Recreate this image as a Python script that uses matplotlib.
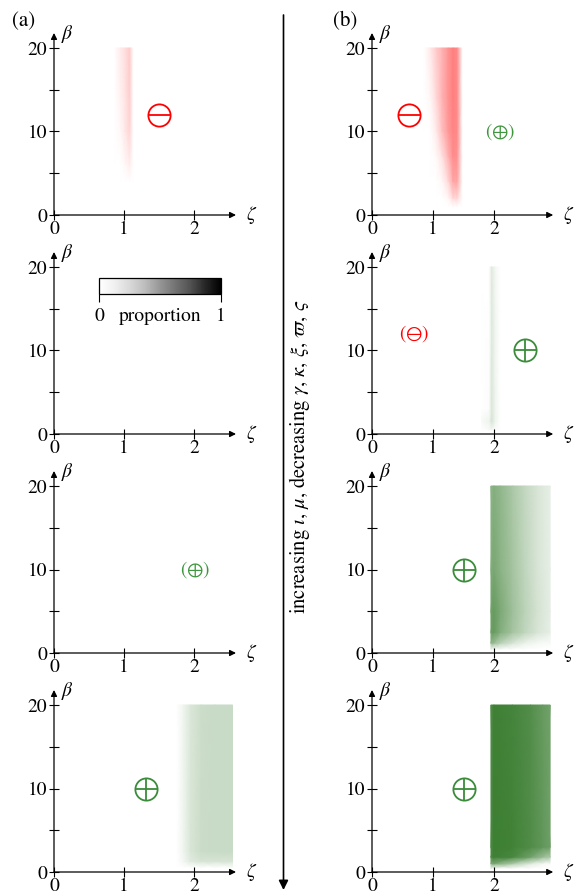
import matplotlib

matplotlib.use("Agg")
import matplotlib.pyplot as plt
from matplotlib.colors import LinearSegmentedColormap, Normalize
from matplotlib.cm import ScalarMappable

plt.rcParams["font.family"] = ["STIXGeneral", "Liberation Serif", "DejaVu Serif"]
plt.rcParams["mathtext.fontset"] = "stix"

W, H = 579, 896

# axis ranges and ticks
zeta_max = [2.6, 2.97]          # column (a), column (b)
beta_max = 21.8
zeta_ticks = [0, 1, 2]
beta_ticks = [0, 10, 20]
beta_minor = [5, 15]

# proportion maps, rows follow the beta list
a1_zeta = [0.86, 0.95, 1.02, 1.08, 1.13]
a1_beta = [4, 6, 10, 15, 20]
a1_prop = [
    [0.00, 0.00, 0.00, 0.00, 0.00],
    [0.00, 0.00, 0.03, 0.07, 0.00],
    [0.00, 0.03, 0.10, 0.17, 0.00],
    [0.00, 0.06, 0.12, 0.20, 0.00],
    [0.00, 0.08, 0.13, 0.21, 0.00],
]

b1_zeta = [0.85, 0.95, 1.05, 1.15, 1.25, 1.33, 1.40, 1.48]
b1_beta = [1, 2, 4, 7, 10, 14, 20]
b1_prop = [
    [0.00, 0.00, 0.00, 0.00, 0.00, 0.00, 0.00, 0.00],
    [0.00, 0.00, 0.00, 0.00, 0.03, 0.15, 0.15, 0.00],
    [0.00, 0.00, 0.00, 0.03, 0.15, 0.35, 0.35, 0.00],
    [0.00, 0.00, 0.02, 0.12, 0.30, 0.45, 0.42, 0.00],
    [0.00, 0.00, 0.08, 0.25, 0.40, 0.48, 0.45, 0.00],
    [0.00, 0.03, 0.15, 0.30, 0.42, 0.50, 0.45, 0.00],
    [0.00, 0.08, 0.20, 0.30, 0.42, 0.50, 0.45, 0.00],
]

b2_zeta = [1.80, 1.92, 1.96, 2.02, 2.10]
b2_beta = [0.5, 1.5, 3, 20]
b2_prop = [
    [0.00, 0.03, 0.05, 0.02, 0.00],
    [0.04, 0.08, 0.20, 0.08, 0.00],
    [0.00, 0.02, 0.18, 0.08, 0.00],
    [0.00, 0.00, 0.15, 0.06, 0.00],
]

b3_zeta = [1.95, 2.00, 2.10, 2.30, 2.50, 2.70, 2.92]
b3_beta = [0.4, 1.2, 2.5, 5, 10, 20]
b3_prop = [
    [0.00, 0.00, 0.00, 0.00, 0.00, 0.00, 0.00],
    [0.55, 0.50, 0.35, 0.20, 0.10, 0.05, 0.03],
    [0.72, 0.75, 0.62, 0.45, 0.32, 0.20, 0.12],
    [0.70, 0.75, 0.65, 0.48, 0.34, 0.22, 0.13],
    [0.62, 0.66, 0.58, 0.45, 0.32, 0.20, 0.12],
    [0.55, 0.60, 0.55, 0.42, 0.30, 0.20, 0.12],
]

a4_zeta = [1.75, 1.85, 1.95, 2.10, 2.30, 2.55]
a4_beta = [0.5, 1.3, 2.5, 20]
a4_prop = [
    [0.00, 0.00, 0.00, 0.00, 0.00, 0.00],
    [0.00, 0.06, 0.15, 0.20, 0.20, 0.20],
    [0.00, 0.08, 0.19, 0.26, 0.27, 0.27],
    [0.00, 0.08, 0.18, 0.25, 0.27, 0.27],
]

b4_zeta = [1.95, 2.00, 2.30, 2.60, 2.80, 2.92]
b4_beta = [0.4, 1.0, 1.8, 3.0, 20]
b4_prop = [
    [0.00, 0.00, 0.00, 0.00, 0.00, 0.00],
    [0.60, 0.65, 0.40, 0.15, 0.05, 0.02],
    [0.88, 0.95, 0.90, 0.70, 0.50, 0.40],
    [0.88, 0.96, 0.94, 0.86, 0.78, 0.72],
    [0.85, 0.95, 0.92, 0.85, 0.75, 0.70],
]

# region symbols: (column, row, zeta, beta)
big_minus = [(0, 0, 1.5, 12), (1, 0, 0.6, 12)]
big_plus = [(1, 1, 2.5, 10), (1, 2, 1.5, 10), (0, 3, 1.32, 10), (1, 3, 1.5, 10)]
small_minus = [(1, 1, 0.7, 12)]
small_plus = [(1, 0, 2.1, 10), (0, 2, 2.02, 10)]

RED = "#ff0000"
GREEN = "#3a8c3a"
red_map = LinearSegmentedColormap.from_list("reds", ["#ffffff", "#ff0000"])
green_map = LinearSegmentedColormap.from_list("greens", ["#ffffff", "#357a2b"])

maps = [
    (0, 0, a1_zeta, a1_beta, a1_prop, red_map),
    (1, 0, b1_zeta, b1_beta, b1_prop, red_map),
    (1, 1, b2_zeta, b2_beta, b2_prop, green_map),
    (1, 2, b3_zeta, b3_beta, b3_prop, green_map),
    (0, 3, a4_zeta, a4_beta, a4_prop, green_map),
    (1, 3, b4_zeta, b4_beta, b4_prop, green_map),
]

# pixel layout
col_left = [54, 372]
px_per_zeta = [70, 61]
row_base = [215, 434, 653, 872]
px_per_beta = 8.35


def px_box(x0, y_top, w, h):
    return [x0 / W, 1 - (y_top + h) / H, w / W, h / H]


fig = plt.figure(figsize=(W / 100, H / 100), dpi=100)

axes = {}
for c in range(2):
    for r in range(4):
        h = beta_max * px_per_beta
        ax = fig.add_axes(px_box(col_left[c], row_base[r] - h, zeta_max[c] * px_per_zeta[c], h))
        ax.set_xlim(0, zeta_max[c])
        ax.set_ylim(0, beta_max)
        for spine in ax.spines.values():
            spine.set_visible(False)
        ax.patch.set_visible(False)
        ax.set_xticks(zeta_ticks)
        ax.set_yticks(beta_ticks)
        ax.set_yticks(beta_minor, minor=True)
        ax.tick_params(which="both", direction="inout", length=7, width=0.8, labelsize=14, pad=1.5)
        ax.tick_params(axis="x", pad=0.5)
        ax.annotate("", xy=(1, 0), xytext=(0, 0), xycoords="axes fraction",
                    arrowprops=dict(arrowstyle="-|>", lw=0.9, color="k", shrinkA=0, shrinkB=0,
                                    mutation_scale=9))
        ax.annotate("", xy=(0, 1), xytext=(0, 0), xycoords="axes fraction",
                    arrowprops=dict(arrowstyle="-|>", lw=0.9, color="k", shrinkA=0, shrinkB=0,
                                    mutation_scale=9))
        ax.annotate(r"$\beta$", xy=(0, 1), xycoords="axes fraction", xytext=(10, -1),
                    textcoords="offset points", fontsize=14, ha="center", va="center")
        ax.annotate(r"$\zeta$", xy=(1, 0), xycoords="axes fraction", xytext=(11, 0),
                    textcoords="offset points", fontsize=14, ha="center", va="center")
        axes[(c, r)] = ax

for c, r, zeta, beta, prop, cmap in maps:
    axes[(c, r)].pcolormesh(zeta, beta, prop, shading="gouraud", cmap=cmap, vmin=0, vmax=1,
                            zorder=1, rasterized=True)

for c, r, z, b in big_minus:
    ax = axes[(c, r)]
    ax.plot(z, b, "o", ms=16, mfc="none", mec=RED, mew=1.3, zorder=5)
    ax.plot(z, b, "_", ms=16, mec=RED, mew=1.3, zorder=5)

for c, r, z, b in big_plus:
    ax = axes[(c, r)]
    ax.plot(z, b, "o", ms=16, mfc="none", mec=GREEN, mew=1.3, zorder=5)
    ax.plot(z, b, "+", ms=16, mec=GREEN, mew=1.3, zorder=5)

for c, r, z, b in small_minus:
    axes[(c, r)].text(z, b, r"$(\ominus)$", color=RED, fontsize=14, ha="center", va="center", zorder=5)

for c, r, z, b in small_plus:
    axes[(c, r)].text(z, b, r"$(\oplus)$", color="#3f963f", fontsize=14, ha="center", va="center", zorder=5)

# proportion scale
cax = fig.add_axes(px_box(99, 278, 122, 16))
cb = fig.colorbar(ScalarMappable(Normalize(0, 1), cmap="Greys"), cax=cax,
                  orientation="horizontal", ticks=[0, 1])
cb.outline.set_linewidth(0.9)
cax.tick_params(length=6, width=0.8, labelsize=14, pad=4)
cax.set_xticklabels(["0", "1"])

# overlay in pixel coordinates
over = fig.add_axes([0, 0, 1, 1])
over.set_xlim(0, W)
over.set_ylim(H, 0)
over.axis("off")
over.text(160, 316, "proportion", fontsize=14, ha="center", va="center")
over.text(24, 21, "(a)", fontsize=15, ha="center", va="center")
over.text(345, 21, "(b)", fontsize=15, ha="center", va="center")
over.annotate("", xy=(283.5, 890), xytext=(283.5, 15),
              arrowprops=dict(arrowstyle="-|>", lw=1.2, color="k", shrinkA=0, shrinkB=0,
                              mutation_scale=14))
over.text(300, 457,
          r"increasing $\iota$, $\mu$, decreasing $\gamma$, $\kappa$, $\xi$, $\varpi$, $\varsigma$",
          fontsize=14.8, rotation=90, ha="center", va="center")

fig.savefig("out.png", dpi=100, facecolor="white")
